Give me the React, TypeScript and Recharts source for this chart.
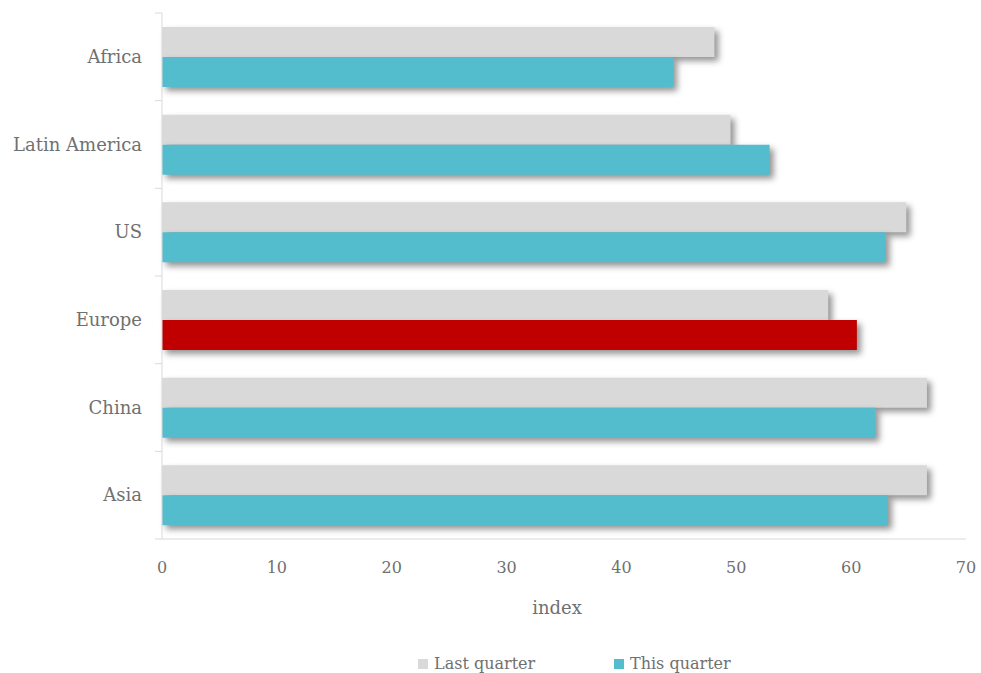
import React from 'react';
import { BarChart, Bar, XAxis, YAxis, Legend, Cell, Rectangle, Label } from 'recharts';

// Regional index, last quarter vs this quarter
const regions = ['Africa', 'Latin America', 'US', 'Europe', 'China', 'Asia'];
const lastQuarter = [48.1, 49.5, 64.8, 58.0, 66.6, 66.6];
const thisQuarter = [44.5, 52.9, 63.0, 60.5, 62.1, 63.2];
const highlightRegion = 'Europe';
const xTicks = [0, 10, 20, 30, 40, 50, 60, 70];
const seriesNames = ['Last quarter', 'This quarter'];

const data = regions.map((region, i) => ({
  region,
  last: lastQuarter[i],
  current: thisQuarter[i],
}));

const W = 981;
const H = 673;
const MARGIN = { top: 13, right: 15, bottom: 0, left: 0 };
const Y_AXIS_W = 162;
const X_AXIS_H = 84;
const LEGEND_H = 50;
const PLOT_H = H - MARGIN.top - MARGIN.bottom - X_AXIS_H - LEGEND_H;
const BAND = PLOT_H / regions.length;

const FONT = '"DejaVu Serif", serif';
const GREY = '#D9D9D9';
const TEAL = '#54BDCD';
const RED = '#C00000';
const AXIS = '#D9D9D9';
const TEXT = '#707070';

const ShadowBar = (props: any) => (
  <Rectangle
    {...props}
    style={{ filter: 'drop-shadow(4px 4px 3px rgba(0,0,0,0.42))' }}
  />
);

// Category label plus small ticks at band boundaries
const RegionTick = (props: any) => {
  const { x, y, payload, index } = props;
  const axisX = x + 20;
  return (
    <g>
      <text
        x={x}
        y={y}
        dy="0.35em"
        textAnchor="end"
        fill={TEXT}
        fontSize={18}
        fontFamily={FONT}
      >
        {payload.value}
      </text>
      <line x1={axisX - 7} x2={axisX} y1={y - BAND / 2} y2={y - BAND / 2} stroke={AXIS} strokeWidth={1} />
      {index === regions.length - 1 && (
        <line x1={axisX - 7} x2={axisX} y1={y + BAND / 2} y2={y + BAND / 2} stroke={AXIS} strokeWidth={1} />
      )}
    </g>
  );
};

const LegendContent = () => (
  <div style={{ position: 'relative', height: LEGEND_H, width: W, fontFamily: FONT }}>
    {seriesNames.map((name, i) => (
      <div
        key={name}
        style={{
          position: 'absolute',
          left: i === 0 ? 418 : 614,
          top: 31,
          display: 'flex',
          alignItems: 'center',
          fontSize: 16,
          color: TEXT,
          lineHeight: '20px',
        }}
      >
        <span
          style={{
            display: 'inline-block',
            width: 10,
            height: 10,
            background: i === 0 ? GREY : TEAL,
            marginRight: 6,
          }}
        />
        {name}
      </div>
    ))}
  </div>
);

export default function App() {
  return (
    <div style={{ position: 'absolute', left: 0, top: 0, width: W, height: H, background: '#fff' }}>
      <BarChart
        width={W}
        height={H}
        data={data}
        layout="vertical"
        margin={MARGIN}
        barCategoryGap="16%"
        barGap={0}
      >
        <XAxis
          type="number"
          domain={[0, 70]}
          ticks={xTicks}
          height={X_AXIS_H}
          axisLine={{ stroke: AXIS }}
          tickLine={false}
          tickSize={0}
          tickMargin={23}
          tick={{ fill: TEXT, fontSize: 16, fontFamily: FONT }}
        >
          <Label
            value="index"
            position="insideBottom"
            offset={9}
            dx={-7}
            fill={TEXT}
            fontSize={18}
            fontFamily={FONT}
          />
        </XAxis>
        <YAxis
          type="category"
          dataKey="region"
          width={Y_AXIS_W}
          axisLine={{ stroke: AXIS }}
          tickLine={false}
          tickSize={0}
          tickMargin={20}
          tick={<RegionTick />}
        />
        <Legend verticalAlign="bottom" height={LEGEND_H} content={<LegendContent />} wrapperStyle={{ left: 0, width: W }} />
        <Bar dataKey="last" name={seriesNames[0]} fill={GREY} shape={ShadowBar} isAnimationActive={false} />
        <Bar dataKey="current" name={seriesNames[1]} fill={TEAL} shape={ShadowBar} isAnimationActive={false}>
          {data.map((d) => (
            <Cell key={d.region} fill={d.region === highlightRegion ? RED : TEAL} />
          ))}
        </Bar>
      </BarChart>
    </div>
  );
}
